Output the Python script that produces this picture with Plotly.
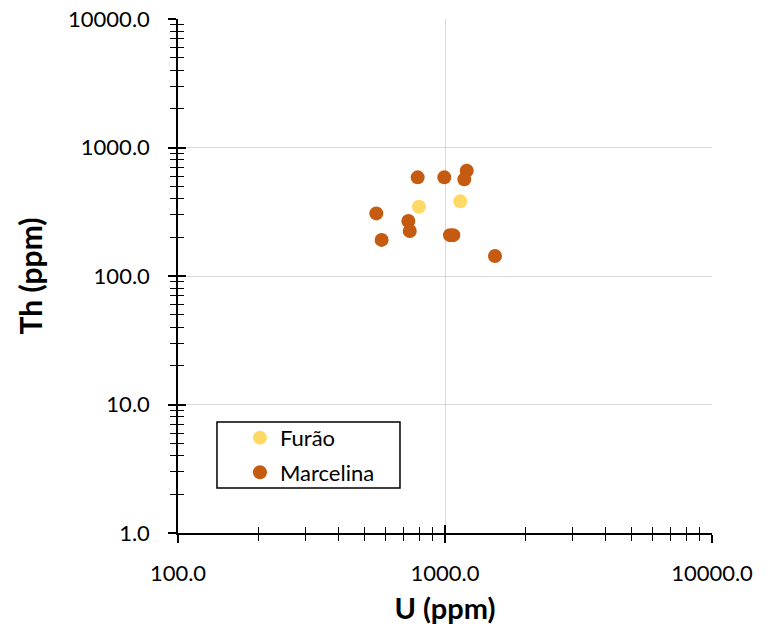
import plotly.graph_objects as go

# Data
furao_u = [799, 1141]
furao_th = [346, 381]
marcelina_u = [790, 994, 1206, 1181, 553, 729, 738, 579, 1044, 1074, 1539]
marcelina_th = [586, 586, 660, 565, 307, 268, 224, 191, 208, 208, 143]

x_tickvals = [100, 1000, 10000]
x_ticktext = ["100.0", "1000.0", "10000.0"]
y_tickvals = [1, 10, 100, 1000, 10000]
y_ticktext = ["1.0", "10.0", "100.0", "1000.0", "10000.0"]

FONT = "Lato, Calibri, Arial, sans-serif"

fig = go.Figure()
fig.add_trace(go.Scatter(x=furao_u, y=furao_th, mode="markers", name="Furão",
                         marker=dict(color="#FFD966", size=14), legendgroup="a"))
fig.add_trace(go.Scatter(x=marcelina_u, y=marcelina_th, mode="markers", name="Marcelina",
                         marker=dict(color="#C55A11", size=14), legendgroup="b"))
# invisible trace to instantiate the overlay axes (inside halves of the crossing ticks)
fig.add_trace(go.Scatter(x=furao_u, y=furao_th, mode="markers", xaxis="x2", yaxis="y2",
                         marker=dict(opacity=0), showlegend=False, hoverinfo="skip"))

common = dict(type="log", showline=True, linecolor="black", linewidth=1.5,
              ticklen=8, tickwidth=1.5, tickcolor="black", automargin=False,
              zeroline=False, showgrid=True, gridcolor="#d9d9d9", gridwidth=1.2,
              ticklabeloverflow="allow")
minor_out = dict(dtick="D1", ticks="outside", ticklen=6, tickcolor="black",
                 tickwidth=1.2, showgrid=False)
minor_in = dict(dtick="D1", ticks="inside", ticklen=6, tickcolor="black",
                tickwidth=1.2, showgrid=False)

fig.update_layout(
    width=781, height=632,
    margin=dict(l=178, r=69, t=19, b=99),
    plot_bgcolor="white", paper_bgcolor="white",
    font=dict(family=FONT, size=22, color="black"),
    showlegend=True,
    xaxis=dict(**common, range=[2, 4], tickvals=x_tickvals, ticktext=x_ticktext,
               ticks="outside", minor=minor_out, ticklabelstandoff=12,
               title=dict(text="<b>U (ppm)</b>", font=dict(size=29), standoff=14)),
    yaxis=dict(**common, range=[0, 4], tickvals=y_tickvals, ticktext=y_ticktext,
               ticks="outside", minor=minor_out, ticklabelstandoff=14,
               title=dict(text="<b>Th (ppm)</b>", font=dict(size=30), standoff=17)),
    xaxis2=dict(type="log", range=[2, 4], overlaying="x", anchor="y2", side="bottom",
                tickvals=x_tickvals, showticklabels=False, ticks="inside",
                ticklen=8, tickwidth=1.5, tickcolor="black", showgrid=False,
                showline=False, zeroline=False, automargin=False, minor=minor_in),
    yaxis2=dict(type="log", range=[0, 4], overlaying="y", anchor="x2", side="left",
                tickvals=y_tickvals, showticklabels=False, ticks="inside",
                ticklen=8, tickwidth=1.5, tickcolor="black", showgrid=False,
                showline=False, zeroline=False, automargin=False, minor=minor_in),
    legend=dict(x=0.116, y=0.226, xanchor="left", yanchor="top",
                borderwidth=0, bgcolor="rgba(0,0,0,0)",
                font=dict(size=22), tracegroupgap=3, traceorder="grouped"),
    shapes=[dict(type="rect", xref="paper", yref="paper",
                 x0=0.073, x1=0.4157, y0=0.0875, y1=0.216,
                 line=dict(color="black", width=1.5), fillcolor="white", layer="above")],
)

# remove the browser's default 8px page margin so the figure fills the window
fig.write_html("out.html", config={"displayModeBar": False},
               post_script="document.body.style.margin='0px';")
